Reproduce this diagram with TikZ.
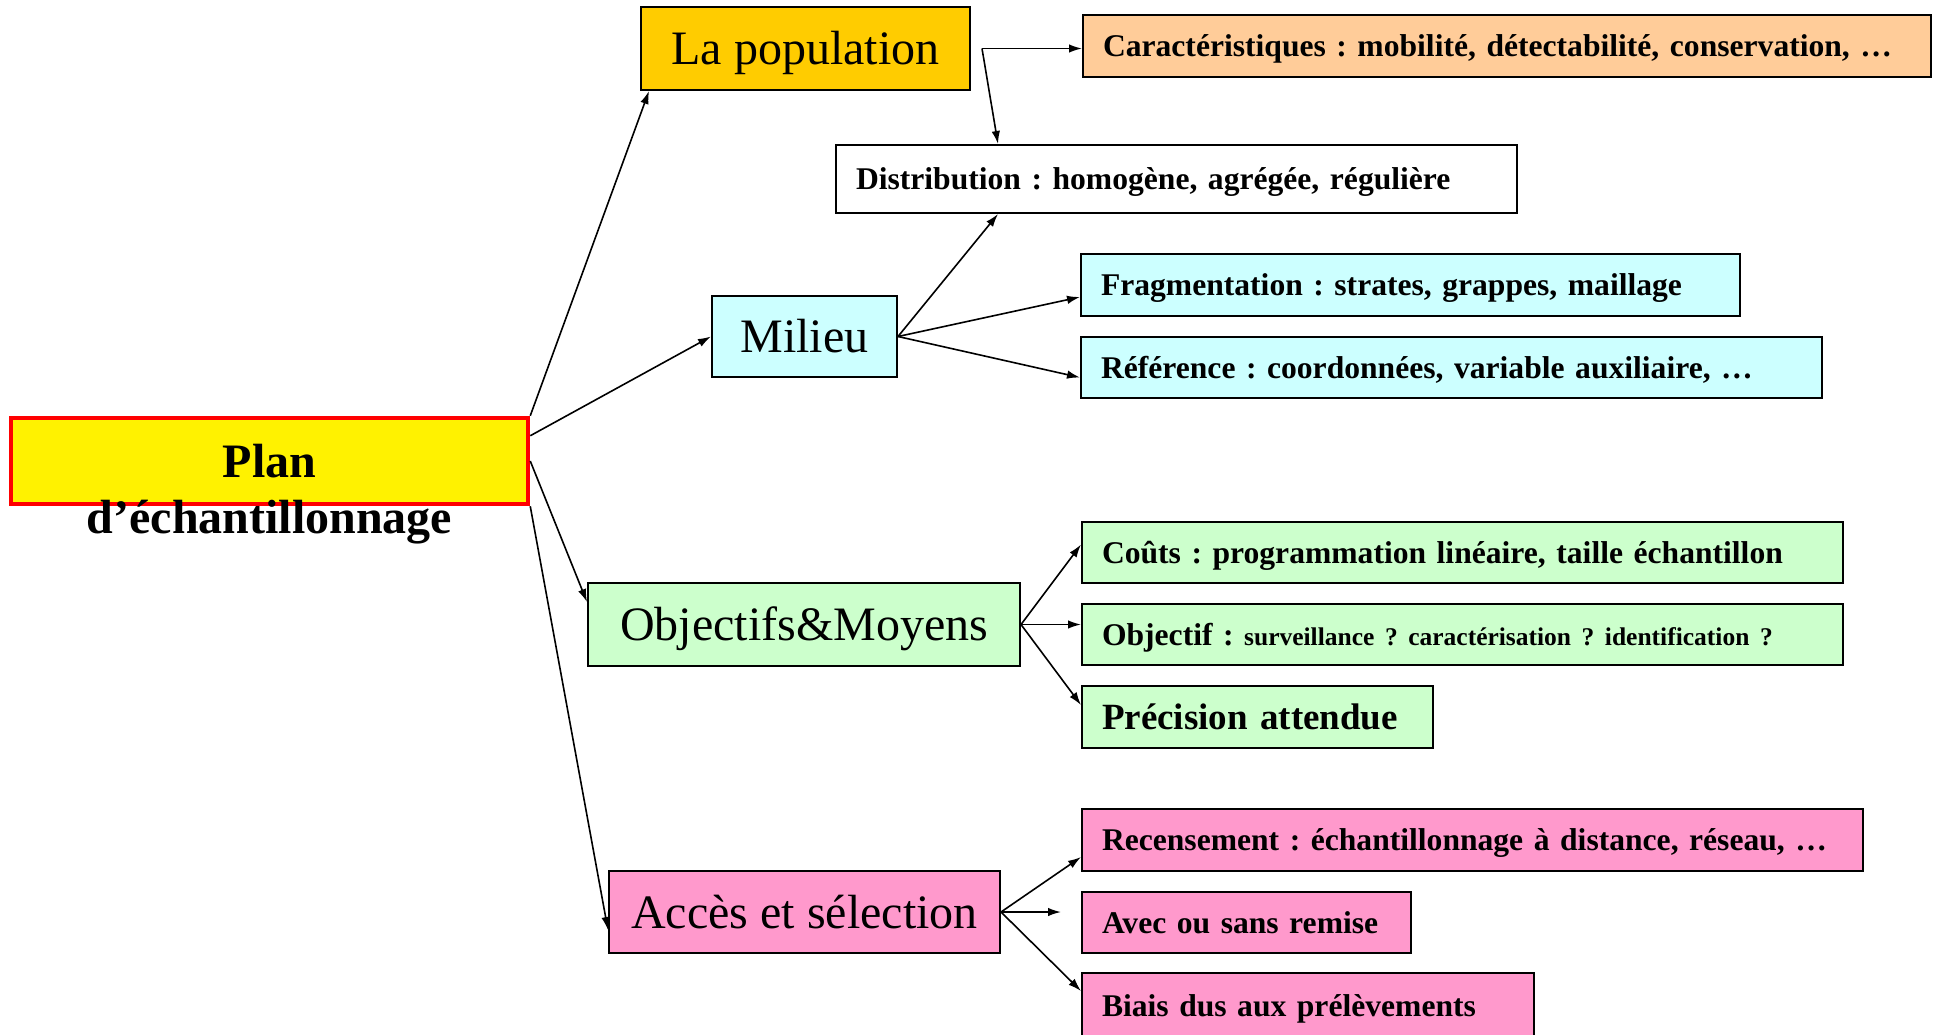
\documentclass[tikz,border=0pt]{standalone}
\usepackage{fontspec}
\setmainfont{Liberation Serif}
\usetikzlibrary{arrows.meta,calc}
\definecolor{popc}{HTML}{FFCC00}
\definecolor{carc}{HTML}{FFCC99}
\definecolor{milc}{HTML}{CCFFFF}
\definecolor{objc}{HTML}{CCFFCC}
\definecolor{accc}{HTML}{FF99CC}
\begin{document}
\frenchspacing
\begin{tikzpicture}[x=1pt,y=-1pt,
  box/.style={draw=black,line width=2pt,inner sep=0pt},
  mainbox/.style={box,font=\fontsize{48}{56}\selectfont,text height=42.8pt,text depth=10.4pt},
  subbox/.style={box,font=\bfseries\fontsize{31.6}{38}\selectfont,align=left,inner xsep=20pt,inner ysep=0pt,
                 text height=28.5pt,text depth=6.9pt},
  conn/.style={line width=1.6pt,-{Latex[length=13pt,width=8.5pt]}}
]
\useasboundingbox (0,0) rectangle (1937,1034);
\clip (0,0) rectangle (1937,1034);
\fill[white] (0,0) rectangle (1937,1034);

% central node
\node[draw=red,line width=4.5pt,fill=yellow,inner sep=0pt,minimum width=517pt,minimum height=86pt,
      text height=42.8pt,text depth=10.4pt,
      font=\bfseries\fontsize{48}{56}\selectfont] (plan) at (269.5,461) {Plan};
\node[inner sep=0pt,font=\bfseries\fontsize{48}{56}\selectfont] (plan2) at (269.5,522) {d’échantillonnage};

% main branches
\node[mainbox,fill=popc,minimum width=329pt,minimum height=83pt] (pop) at (805.5,48.5) {La population};
\node[mainbox,fill=milc,minimum width=185pt,minimum height=81pt] (mil) at (804.5,336.5) {Milieu};
\node[mainbox,fill=objc,minimum width=432pt,minimum height=83pt] (objm) at (804,624.5) {Objectifs\&Moyens};
\node[mainbox,fill=accc,minimum width=391pt,minimum height=82pt] (acc) at (804.5,912) {Accès et sélection};

% leaves
\node[subbox,fill=carc,minimum width=848pt,text width=808pt,minimum height=62pt] (car) at (1507,46)
  {Caractéristiques : mobilité, détectabilité, conservation, …};
\node[subbox,fill=white,minimum width=681pt,text width=641pt,minimum height=68pt] (dist) at (1176.5,179)
  {Distribution : homogène, agrégée, régulière};
\node[subbox,fill=milc,minimum width=659pt,text width=619pt,minimum height=62pt] (frag) at (1410.5,285)
  {Fragmentation : strates, grappes, maillage};
\node[subbox,fill=milc,minimum width=741pt,text width=701pt,minimum height=61pt] (ref) at (1451.5,367.5)
  {Référence : coordonnées, variable auxiliaire, …};
\node[subbox,fill=objc,minimum width=761pt,text width=721pt,minimum height=61pt] (couts) at (1462.5,552.5)
  {Coûts : programmation linéaire, taille échantillon};
\node[subbox,fill=objc,minimum width=761pt,text width=721pt,minimum height=61pt] (objf) at (1462.5,634.5)
  {Objectif : {\fontsize{25.5}{30}\selectfont surveillance ? caractérisation ? identification ?}};
\node[subbox,fill=objc,minimum width=351pt,text width=311pt,minimum height=62pt,
      font=\bfseries\fontsize{37}{42}\selectfont,text height=33pt,text depth=8pt] (prec) at (1257.5,717)
  {Précision attendue};
\node[subbox,fill=accc,minimum width=781pt,text width=741pt,minimum height=62pt] (rec) at (1472.5,840)
  {Recensement : échantillonnage à distance, réseau, …};
\node[subbox,fill=accc,minimum width=329pt,text width=289pt,minimum height=61pt] (avec) at (1246.5,922.5)
  {Avec ou sans remise};
\node[subbox,fill=accc,minimum width=452pt,text width=412pt,minimum height=66pt] (biais) at (1308,1006)
  {Biais dus aux prélèvements};

% connectors from the central node
\draw[conn] (plan.north east) -- ($(pop.south west)+(9,0)$);
\draw[conn] ($(plan.north east)+(0,20)$) -- (mil.west);
\draw[conn] (plan.east) -- ($(objm.north west)+(0,20)$);
\draw[conn] (plan.south east) -- ($(acc.west)+(0,18)$);

% population
\coordinate (popout) at ($(pop.east)+(11,0)$);
\draw[conn] (popout) -- (popout -| car.west);
\draw[conn] (popout) -- ($(dist.north west)+(163,0)$);

% milieu
\draw[conn] (mil.east) -- ($(dist.south west)+(163,0)$);
\draw[conn] (mil.east) -- ($(frag.west)+(0,12)$);
\draw[conn] (mil.east) -- ($(ref.west)+(0,10)$);

% objectifs
\draw[conn] (objm.east) -- ($(couts.west)+(0,-8)$);
\draw[conn] (objm.east) -- (objm.east -| objf.west);
\draw[conn] (objm.east) -- ($(prec.west)+(0,-12)$);

% acces
\coordinate (avecend) at ($(acc.east)+(60,0)$);
\draw[conn] (acc.east) -- ($(rec.west)+(0,17)$);
\draw[conn] (acc.east) -- (avecend);
\draw[conn] (acc.east) -- ($(biais.north west)+(0,19)$);
\end{tikzpicture}
\end{document}
